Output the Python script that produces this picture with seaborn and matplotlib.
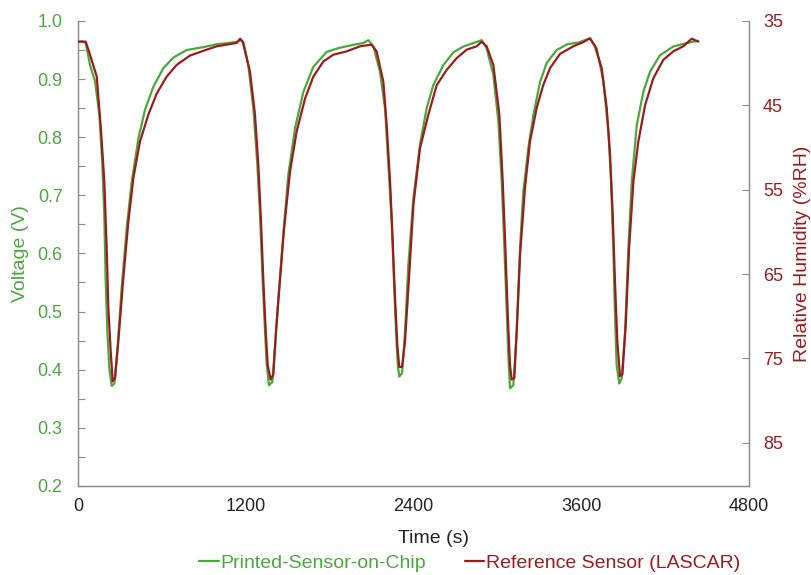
import matplotlib
matplotlib.use("Agg")
import matplotlib.pyplot as plt
from matplotlib.ticker import MultipleLocator
import seaborn as sns

GREEN = "#4aa83c"
RED = "#9b1b1e"
SPINE = "#8c8c8c"

# Printed sensor: time (s) and voltage (V)
chip_time = [
    0, 30, 55, 86, 122, 153, 174, 188, 198, 210, 224, 241, 260, 284, 312, 348,
    384, 432, 479, 539, 611, 682, 777, 896, 992, 1070, 1135, 1165,
    1185, 1218, 1254, 1283, 1302, 1321, 1338, 1350, 1366, 1390, 1409, 1433,
    1464, 1504, 1552, 1612, 1683, 1779, 1874, 1970, 2040, 2077,
    2113, 2160, 2196, 2220, 2244, 2260, 2275, 2287, 2298, 2318, 2339, 2363,
    2399, 2446, 2494, 2542, 2613, 2685, 2756, 2828, 2888,
    2923, 2971, 3007, 3031, 3050, 3066, 3078, 3090, 3114, 3138, 3162, 3185,
    3221, 3257, 3305, 3353, 3424, 3500, 3580, 3662,
    3710, 3758, 3794, 3813, 3829, 3841, 3853, 3872, 3889, 3913, 3937, 3961,
    3997, 4044, 4092, 4163, 4258, 4354, 4437,
]
chip_volt = [
    0.964, 0.965, 0.962, 0.924, 0.896, 0.838, 0.752, 0.666, 0.551, 0.465, 0.402, 0.372, 0.376, 0.442, 0.540, 0.643,
    0.723, 0.798, 0.847, 0.887, 0.919, 0.937, 0.950, 0.955, 0.960, 0.962, 0.964, 0.967,
    0.962, 0.924, 0.850, 0.752, 0.666, 0.551, 0.465, 0.408, 0.373, 0.379, 0.437, 0.523,
    0.620, 0.735, 0.815, 0.878, 0.921, 0.947, 0.954, 0.959, 0.962, 0.967,
    0.956, 0.913, 0.850, 0.752, 0.655, 0.551, 0.465, 0.408, 0.388, 0.394, 0.465, 0.580,
    0.695, 0.787, 0.850, 0.890, 0.924, 0.946, 0.956, 0.962, 0.967,
    0.953, 0.907, 0.827, 0.723, 0.609, 0.506, 0.425, 0.368, 0.373, 0.465, 0.609, 0.706,
    0.781, 0.838, 0.895, 0.928, 0.950, 0.960, 0.963, 0.970,
    0.953, 0.896, 0.809, 0.723, 0.609, 0.494, 0.408, 0.376, 0.385, 0.465, 0.609, 0.723,
    0.821, 0.878, 0.913, 0.941, 0.956, 0.962, 0.966,
]

# LASCAR reference: time (s) and relative humidity (%RH)
ref_time = [
    0, 55, 86, 134, 165, 188, 205, 217, 234, 248, 265, 288, 324, 360, 396, 443,
    503, 563, 634, 706, 801, 920, 992, 1064, 1135, 1160, 1178,
    1230, 1266, 1290, 1309, 1326, 1343, 1357, 1378, 1397, 1416, 1440, 1474,
    1516, 1564, 1624, 1683, 1755, 1826, 1922, 2017, 2100,
    2136, 2184, 2208, 2232, 2251, 2268, 2284, 2298, 2318, 2339, 2363, 2399,
    2446, 2506, 2566, 2637, 2709, 2780, 2852, 2888,
    2923, 2971, 3014, 3038, 3057, 3074, 3090, 3102, 3121, 3138, 3162, 3197,
    3233, 3281, 3328, 3376, 3448, 3543, 3615, 3662,
    3698, 3746, 3782, 3806, 3825, 3841, 3858, 3877, 3894, 3918, 3942, 3973,
    4008, 4056, 4115, 4187, 4258, 4330, 4390, 4437,
]
ref_rh = [
    37.45, 37.45, 39.0, 41.6, 48.1, 54.0, 61.9, 69.0, 74.2, 77.7, 77.3, 73.0, 65.5, 58.8, 53.6, 49.3,
    46.1, 43.6, 41.6, 40.2, 39.1, 38.4, 38.0, 37.8, 37.6, 37.1, 37.45,
    41.0, 46.1, 52.1, 58.8, 65.9, 71.8, 75.8, 77.5, 76.9, 71.8, 66.7, 59.6,
    52.9, 48.1, 44.2, 41.6, 39.8, 39.0, 38.6, 38.0, 37.8,
    38.6, 42.2, 47.3, 54.0, 61.1, 67.9, 73.4, 76.0, 76.0, 73.0, 66.7, 56.8,
    50.1, 46.1, 42.6, 40.8, 39.4, 38.4, 38.0, 37.45,
    38.0, 40.2, 46.1, 54.0, 61.9, 69.8, 75.8, 77.5, 77.3, 71.8, 62.7, 54.8,
    49.3, 45.3, 42.6, 40.6, 38.9, 38.0, 37.5, 37.05,
    38.0, 40.6, 45.3, 50.9, 58.0, 65.9, 73.0, 77.1, 76.9, 71.0, 61.9, 54.0,
    49.3, 45.0, 41.8, 39.6, 38.6, 38.0, 37.1, 37.45,
]

sns.set_style("white")
plt.rcParams["font.family"] = ["Liberation Sans", "DejaVu Sans"]

fig = plt.figure(figsize=(8.11, 5.75), dpi=100)
ax = fig.add_axes([0.0962, 0.155, 0.8274, 0.8085])
ax2 = ax.twinx()

sns.lineplot(x=chip_time, y=chip_volt, ax=ax, color=GREEN, linewidth=1.6,
             estimator=None, zorder=2)
sns.lineplot(x=ref_time, y=ref_rh, ax=ax2, color=RED, linewidth=1.6,
             estimator=None, zorder=3)

ax.set_xlim(0, 4800)
ax.set_ylim(0.2, 1.0)
ax2.set_ylim(90.1, 35)

ax.xaxis.set_major_locator(MultipleLocator(1200))
ax.xaxis.set_minor_locator(MultipleLocator(240))
ax.yaxis.set_major_locator(MultipleLocator(0.1))
ax.yaxis.set_minor_locator(MultipleLocator(0.05))
ax2.set_yticks([35, 45, 55, 65, 75, 85])

ax.tick_params(axis="x", which="major", direction="in", length=6, width=0.8,
               color=SPINE, pad=9, labelsize=13, labelcolor="#222222")
ax.tick_params(axis="x", which="minor", direction="in", length=4, width=0.8, color=SPINE)
ax.tick_params(axis="y", which="major", direction="in", length=5, width=0.8,
               color=SPINE, pad=11, labelsize=13, labelcolor=GREEN)
ax.tick_params(axis="y", which="minor", direction="in", length=5, width=0.8, color=SPINE)
ax2.tick_params(axis="y", which="major", direction="in", length=5, width=0.8,
                color=SPINE, pad=10, labelsize=13, labelcolor=RED)

ax.set_xlabel("Time (s)", fontsize=14, color="#222222")
ax.xaxis.set_label_coords(0.53, -0.095)
ax.set_ylabel("Voltage (V)", fontsize=14, color=GREEN, labelpad=6)
ax2.set_ylabel("Relative Humidity (%RH)", fontsize=14, color=RED, labelpad=8)

for a in (ax, ax2):
    a.spines["top"].set_visible(False)
    for s in ("left", "right", "bottom"):
        a.spines[s].set_color(SPINE)
        a.spines[s].set_linewidth(0.9)

h1 = ax.get_lines()[0]
h2 = ax2.get_lines()[0]
leg = ax.legend([h1, h2], ["Printed-Sensor-on-Chip", "Reference Sensor (LASCAR)"],
                loc="center", bbox_to_anchor=(0.584, -0.166), ncol=2, frameon=False,
                fontsize=14, handlelength=1.0, handletextpad=0.1, columnspacing=2.0)
for txt, col in zip(leg.get_texts(), [GREEN, RED]):
    txt.set_color(col)

fig.savefig("out.png", dpi=100)
